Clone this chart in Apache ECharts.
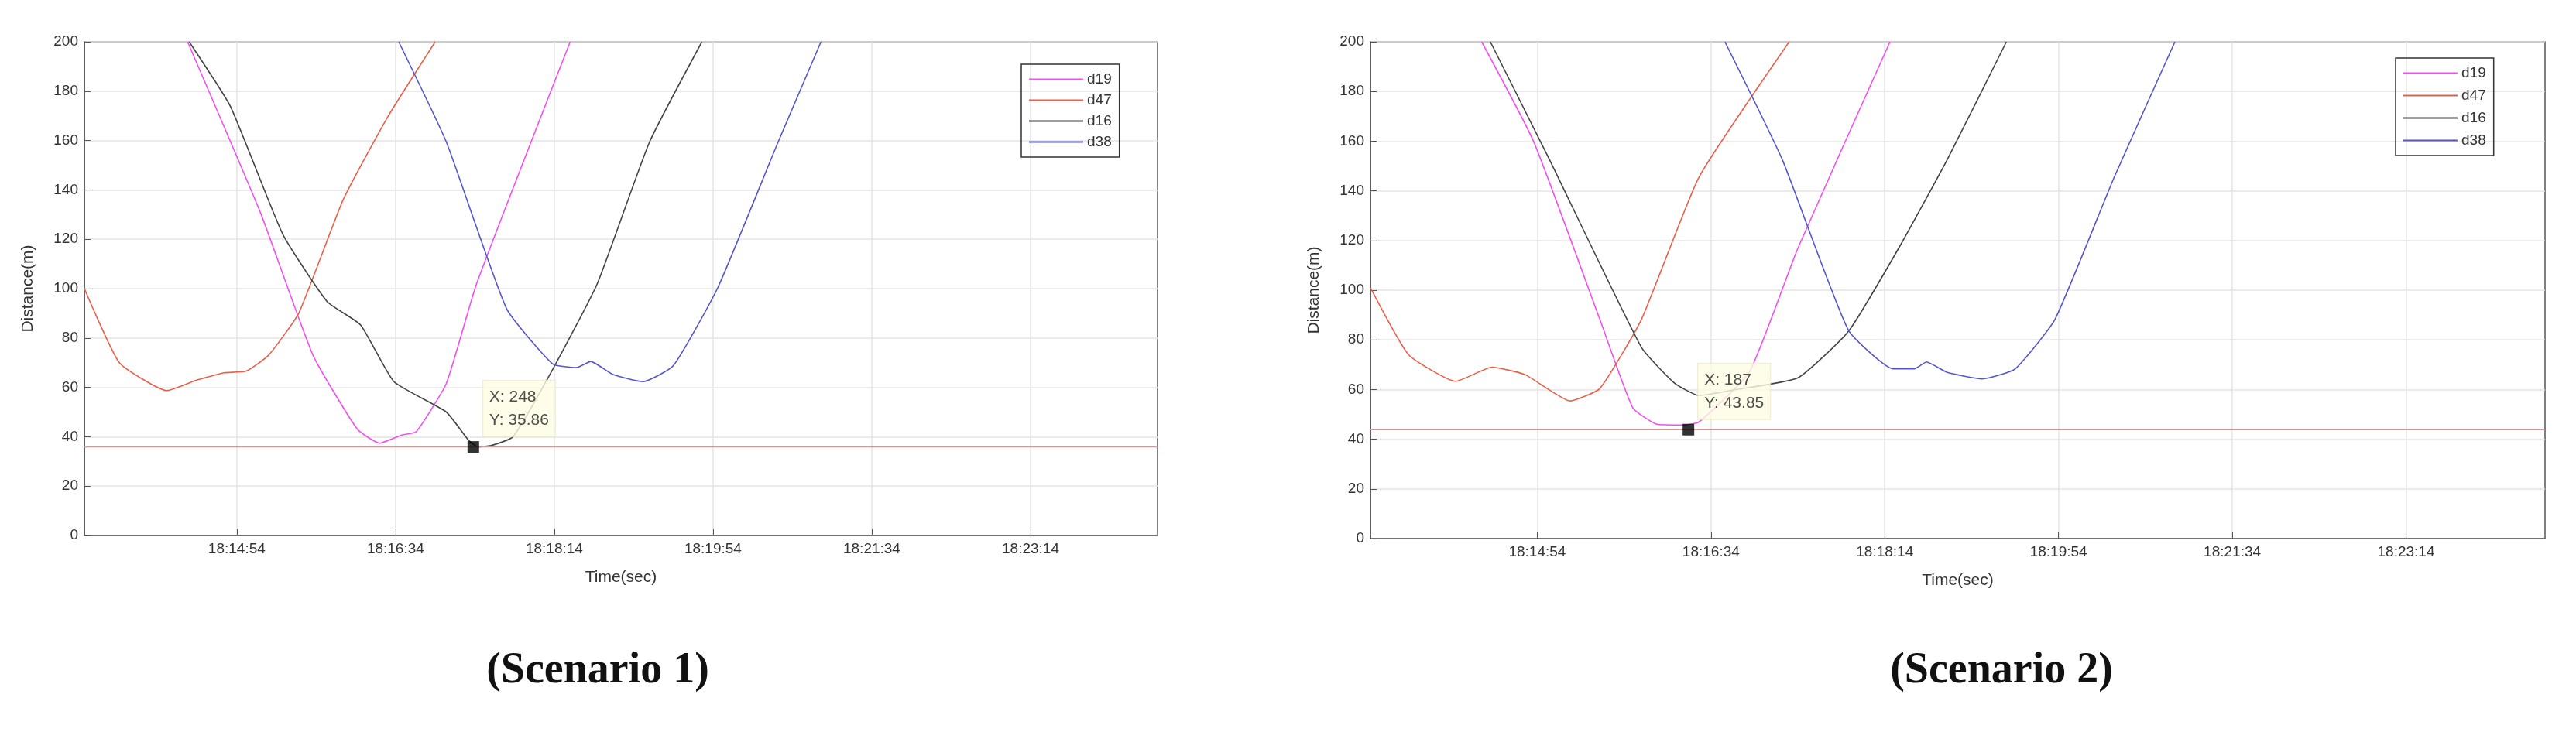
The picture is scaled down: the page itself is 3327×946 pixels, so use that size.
<!DOCTYPE html>
<html>
<head>
<meta charset="utf-8">
<script src="https://cdn.jsdelivr.net/npm/echarts@6/dist/echarts.min.js"></script>
<style>html,body{margin:0;padding:0;background:#fff}#main{width:3327px;height:946px}</style>
</head>
<body>
<div id="main"></div>
<script>
// x = seconds after 18:13:18
var tickSecs = [96, 196, 296, 396, 496, 596];
var tickLabels = ['18:14:54', '18:16:34', '18:18:14', '18:19:54', '18:21:34', '18:23:14'];
var yTicks = [0, 20, 40, 60, 80, 100, 120, 140, 160, 180, 200];

// Scenario 1
var s1_d19 = [[65,200],[111,130.6],[144,73],[172,43],[186,37.4],[200,40.7],[209,42],[228,61.6],[247,101.9],[306,200]];
var s1_d47 = [[0,100],[22,70],[52,58.7],[71,63],[88,65.9],[102,66.6],[116,73],[135,90],[163,136],[191,169.5],[221,200]];
var s1_d16 = [[66,200],[92,173.8],[125,122],[153,94.7],[174,85.3],[195,62.3],[228,50],[242,38.6],[248,35.86],[256,36.4],[270,40],[295,67.3],[323,101.9],[356,159.4],[389,200]];
var s1_d38 = [[198,200],[228,159.4],[266,91.8],[295,69.5],[310,68],[319,70.5],[333,65.2],[352,62.3],[371,68.8],[399,100.4],[437,159.4],[464,200]];
var s1_min = [245, 35.86];
var s1_text = 'X: 248\nY: 35.86';

// Scenario 2
var s2_d19 = [[64,200],[94,159.7],[132,88.3],[151,52.6],[165,46],[180,45.7],[189,46.9],[218,66.9],[246,116.9],[299,200]];
var s2_d47 = [[0,101],[22,74],[49,63.3],[70,69],[89,66],[115,55.4],[132,60.4],[156,88.3],[189,145.4],[241,200]];
var s2_d16 = [[69,200],[103,152.6],[156,76.9],[175,62.6],[189,57.6],[208,59.7],[246,64.7],[275,83.3],[304,116.9],[332,152.6],[366,200]];
var s2_d38 = [[204,200],[237,152.6],[275,84],[301,68.3],[313,68.3],[320,71.1],[332,66.9],[352,64.3],[371,68.3],[394,88.3],[428,145.4],[463,200]];
var s2_min = [183, 43.85];
var s2_text = 'X: 187\nY: 43.85';

var names = ['d19', 'd47', 'd16', 'd38'];
var colors = ['#f050f0', '#e8604a', '#444444', '#5555cc'];
var font = 'Liberation Sans, Arial, sans-serif';

function xAxisFor(i) {
  return {
    type: 'value', gridIndex: i, min: 0, max: 676,
    name: 'Time(sec)', nameLocation: 'middle', nameGap: 44,
    nameTextStyle: {fontSize: 21, color: '#333', fontFamily: font},
    axisLine: {lineStyle: {color: '#555', width: 1.5}},
    axisTick: {inside: true, length: 8, lineStyle: {color: '#555'}, customValues: tickSecs},
    axisLabel: {fontSize: 19, color: '#333', fontFamily: font, customValues: tickSecs,
      formatter: function (v) { return tickLabels[tickSecs.indexOf(v)] || ''; }},
    splitLine: {show: true, lineStyle: {color: '#e4e4e4', width: 1.5}}
  };
}
function yAxisFor(i) {
  return {
    type: 'value', gridIndex: i, min: 0, max: 200, interval: 20,
    name: 'Distance(m)', nameLocation: 'middle', nameGap: 62,
    nameTextStyle: {fontSize: 21, color: '#333', fontFamily: font},
    axisLine: {show: true, lineStyle: {color: '#555', width: 1.5}},
    axisTick: {inside: true, length: 8, lineStyle: {color: '#555'}},
    axisLabel: {fontSize: 19, color: '#333', fontFamily: font},
    splitLine: {show: true, lineStyle: {color: '#e4e4e4', width: 1.5}}
  };
}
function seriesFor(i, sets, minPt, txt) {
  var out = [];
  sets.forEach(function (d, k) {
    out.push({name: names[k], type: 'line', xAxisIndex: i, yAxisIndex: i, data: d,
      smooth: 0.15, showSymbol: false, lineStyle: {width: 1.6, color: colors[k]}, itemStyle: {color: colors[k]}});
  });
  out.push({type: 'line', xAxisIndex: i, yAxisIndex: i, data: [[0, minPt[1]], [676, minPt[1]]],
    showSymbol: false, lineStyle: {width: 1.5, color: '#f08a8a'}, silent: true});
  out.push({type: 'scatter', xAxisIndex: i, yAxisIndex: i, data: [minPt], symbol: 'rect', symbolSize: 15,
    itemStyle: {color: '#000'}, z: 5,
    label: {show: true, position: [20, -78], formatter: txt, fontSize: 21, lineHeight: 30,
      fontFamily: font, color: '#222', backgroundColor: '#fdfde3', borderColor: '#e8e8c8', borderWidth: 1, padding: [6, 8]}});
  return out;
}

var chart = echarts.init(document.getElementById('main'));
chart.setOption({
  backgroundColor: '#fff',
  animation: false,
  title: [
    {text: '(Scenario 1)', left: 767, top: 835, textAlign: 'center',
      textStyle: {fontFamily: 'Liberation Serif, serif', fontWeight: 'bold', fontSize: 56, color: '#111'}},
    {text: '(Scenario 2)', left: 2580, top: 835, textAlign: 'center',
      textStyle: {fontFamily: 'Liberation Serif, serif', fontWeight: 'bold', fontSize: 56, color: '#111'}}
  ],
  legend: [
    {left: 1319, top: 83, orient: 'vertical', data: names, itemWidth: 70, itemHeight: 2, itemGap: 8,
      icon: 'rect', borderColor: '#333', borderWidth: 1.5, padding: [10, 10],
      textStyle: {fontSize: 19, color: '#333', fontFamily: font}},
    {left: 3094, top: 75, orient: 'vertical', data: names, itemWidth: 70, itemHeight: 2, itemGap: 10,
      icon: 'rect', borderColor: '#333', borderWidth: 1.5, padding: [10, 10],
      textStyle: {fontSize: 19, color: '#333', fontFamily: font}}
  ],
  grid: [
    {left: 109, top: 54, width: 1386, height: 638, show: true, borderColor: '#555', borderWidth: 1.5},
    {left: 1770, top: 54, width: 1517, height: 642, show: true, borderColor: '#555', borderWidth: 1.5}
  ],
  xAxis: [xAxisFor(0), xAxisFor(1)],
  yAxis: [yAxisFor(0), yAxisFor(1)],
  series: seriesFor(0, [s1_d19, s1_d47, s1_d16, s1_d38], s1_min, s1_text)
    .concat(seriesFor(1, [s2_d19, s2_d47, s2_d16, s2_d38], s2_min, s2_text))
});
window.addEventListener('resize', function () { chart.resize(); });
</script>
</body>
</html>
